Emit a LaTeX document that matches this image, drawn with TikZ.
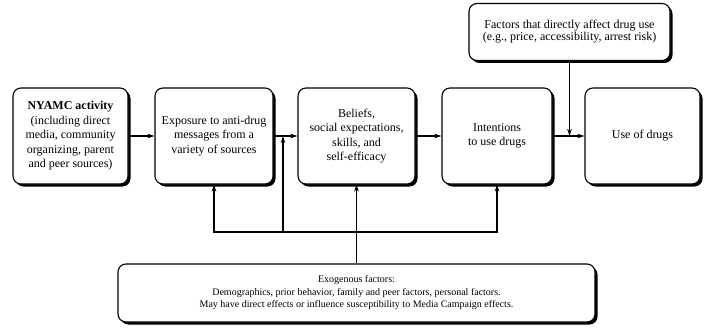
\documentclass[tikz,border=0pt]{standalone}
\usepackage{fontspec}
\setmainfont{Liberation Serif}
\usetikzlibrary{calc,shadows,arrows.meta}

\begin{document}
\begin{tikzpicture}[x=1pt,y=-1pt,
    >={Stealth[length=7pt,width=4.5pt]},
    stagebox/.style={draw,line width=1.1pt,rounded corners=8pt,fill=white,
      drop shadow={shadow xshift=2.5pt,shadow yshift=-2.5pt,fill=black,opacity=1},
      align=center,inner sep=2pt,font=\fontsize{12}{14.5}\selectfont},
    chainbox/.style={stagebox,minimum height=96pt}]
        \useasboundingbox (0,0) rectangle (707,329);
        % main chain of boxes
        \node[chainbox,minimum width=115pt] (nyamc) at (70.5,136)
          {\textbf{NYAMC activity}\\(including direct\\media, community\\organizing, parent\\and peer sources)};
        \node[chainbox,minimum width=118pt] (expo) at (214,136)
          {Exposure to anti-drug\\messages from a\\variety of sources};
        \node[chainbox,minimum width=117pt] (beliefs) at (356.5,136)
          {Beliefs,\\social expectations,\\skills, and\\self-efficacy};
        \node[chainbox,minimum width=110pt] (intent) at (497,136)
          {Intentions\\to use drugs};
        \node[chainbox,minimum width=115pt] (use) at (642.5,136)
          {Use of drugs};
        % side boxes
        \node[stagebox,minimum width=201pt,minimum height=57pt,
          font=\fontsize{12}{12}\selectfont] (factors) at (569.5,32)
          {Factors that directly affect drug use\\(e.g., price, accessibility, arrest risk)};
        \node[stagebox,minimum width=477pt,minimum height=58pt,
          font=\fontsize{10}{12.5}\selectfont] (exo) at (356.5,293)
          {Exogenous factors:\\Demographics, prior behavior, family and peer factors, personal factors.\\May have direct effects or influence susceptibility to Media Campaign effects.};
        % arrows along the chain
        \draw[line width=1.1pt,->] (nyamc) -- (expo);
        \draw[line width=1.1pt,->] (expo) -- (beliefs);
        \draw[line width=1.1pt,->] (beliefs) -- (intent);
        \draw[line width=1.1pt,->] (intent) -- (use);
        \draw[line width=1.1pt,->] (factors) -- (factors |- use.west);
        % routine for exogenous links
        \coordinate (hub) at (356.5,232);
        \coordinate (join) at (283,136);
        \draw[line width=1.1pt,->] (exo) -- (beliefs);
        \draw[line width=1.1pt,->] (hub) -| (expo);
        \draw[line width=1.1pt,->] (hub) -| (join);
        \draw[line width=1.1pt,->] (hub) -| (intent);
      \end{tikzpicture}
\end{document}
